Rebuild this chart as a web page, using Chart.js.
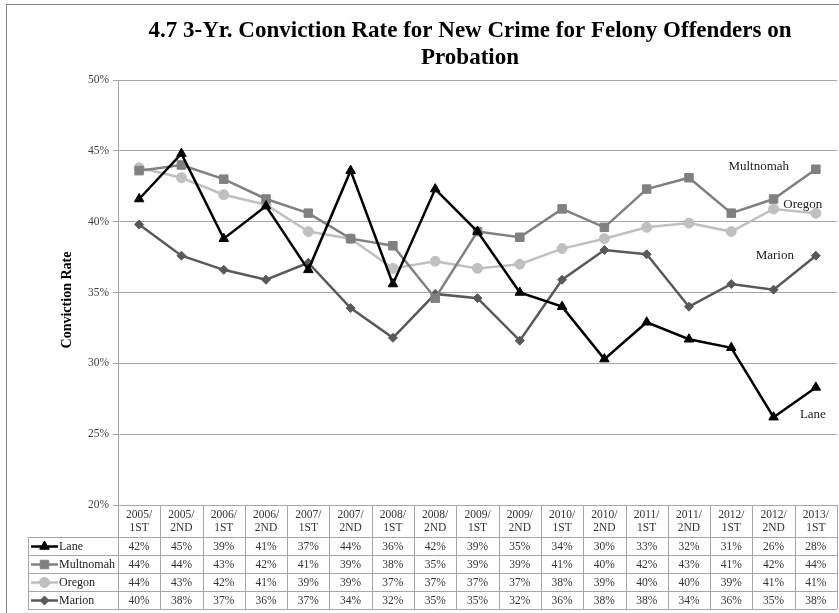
<!DOCTYPE html>
<html><head><meta charset="utf-8">
<script src="https://cdn.jsdelivr.net/npm/chart.js@4/dist/chart.umd.min.js"></script>
<style>html,body{margin:0;padding:0;background:#fff;}canvas{display:block;}</style>
</head><body>
<canvas id="c" width="839" height="613"></canvas>
<script>
const titleLines = ['4.7 3-Yr. Conviction Rate for New Crime for Felony Offenders on', 'Probation'];
const yAxisTitle = 'Conviction Rate';
const categories = [
  ['2005/','1ST'],['2005/','2ND'],['2006/','1ST'],['2006/','2ND'],['2007/','1ST'],['2007/','2ND'],
  ['2008/','1ST'],['2008/','2ND'],['2009/','1ST'],['2009/','2ND'],['2010/','1ST'],['2010/','2ND'],
  ['2011/','1ST'],['2011/','2ND'],['2012/','1ST'],['2012/','2ND'],['2013/','1ST']
];
const seriesNames = ['Lane', 'Multnomah', 'Oregon', 'Marion'];
const laneValues      = [41.6, 44.8, 38.8, 41.1, 36.6, 43.6, 35.6, 42.3, 39.3, 35.0, 34.0, 30.3, 32.9, 31.7, 31.1, 26.2, 28.3];
const multnomahValues = [43.6, 44.0, 43.0, 41.6, 40.6, 38.8, 38.3, 34.6, 39.3, 38.9, 40.9, 39.6, 42.3, 43.1, 40.6, 41.6, 43.7];
const oregonValues    = [43.8, 43.1, 41.9, 41.2, 39.3, 38.8, 36.7, 37.2, 36.7, 37.0, 38.1, 38.8, 39.6, 39.9, 39.3, 40.9, 40.6];
const marionValues    = [39.8, 37.6, 36.6, 35.9, 37.1, 33.9, 31.8, 34.9, 34.6, 31.6, 35.9, 38.0, 37.7, 34.0, 35.6, 35.2, 37.6];
const yTickValues = [20, 25, 30, 35, 40, 45, 50];

const SERIF = '"Liberation Serif","Times New Roman",serif';
const colors = ['#000000', '#808080', '#c0c0c0', '#595959'];
const styles = ['triangle', 'rect', 'circle', 'rectRot'];
const radii = [5.5, 6, 5, 4.5];
const allValues = [laneValues, multnomahValues, oregonValues, marionValues];
// label anchors (category index, value) for in-plot series names
const labelAnchors = [[15.93, 26.35], [14.65, 43.92], [15.69, 41.24], [15.03, 37.6]];

const datasets = seriesNames.map((name, k) => ({
  label: name,
  data: allValues[k],
  borderColor: colors[k],
  backgroundColor: colors[k],
  pointBackgroundColor: colors[k],
  pointBorderColor: colors[k],
  pointStyle: styles[k],
  pointRadius: radii[k],
  pointBorderWidth: 1,
  borderWidth: 2.5,
  tension: 0
}));

const GRID = '#a6a6a6';

const tablePlugin = {
  id: 'tablePlugin',
  beforeDraw(chart) {
    const ctx = chart.ctx;
    ctx.save();
    ctx.fillStyle = '#fff';
    ctx.fillRect(0, 0, chart.width, chart.height);
    ctx.strokeStyle = '#868686';
    ctx.lineWidth = 1;
    ctx.strokeRect(6.5, 4.5, 1000, 1000);
    ctx.restore();
  },
  afterDraw(chart) {
    const ctx = chart.ctx;
    const ca = chart.chartArea;
    const xs = chart.scales.x, ys = chart.scales.y;
    const n = categories.length;
    const colW = (ca.right - ca.left) / n;
    ctx.save();
    // title
    ctx.fillStyle = '#000';
    ctx.font = 'bold 23px ' + SERIF;
    ctx.textAlign = 'center';
    ctx.textBaseline = 'middle';
    ctx.fillText(titleLines[0], 470, 31);
    ctx.fillText(titleLines[1], 470, 58);
    // y axis title
    ctx.save();
    ctx.translate(67, 300);
    ctx.rotate(-Math.PI / 2);
    ctx.font = 'bold 14px ' + SERIF;
    ctx.fillText(yAxisTitle, 0, 0);
    ctx.restore();
    // series labels
    ctx.font = '13px ' + SERIF;
    ctx.fillStyle = '#222';
    labelAnchors.forEach((a, k) => {
      ctx.fillText(seriesNames[k], xs.getPixelForValue(a[0]), ys.getPixelForValue(a[1]));
    });
    // table
    const top = ca.bottom;
    const headerBottom = top + 32;
    const rowH = 18;
    const bottom = headerBottom + rowH * seriesNames.length;
    const legendLeft = 28;
    ctx.strokeStyle = GRID;
    ctx.lineWidth = 1;
    ctx.beginPath();
    for (let k = 0; k <= n; k++) {
      const x = Math.round(ca.left + k * colW) + 0.5;
      ctx.moveTo(x, top); ctx.lineTo(x, bottom);
    }
    for (let r = 0; r <= seriesNames.length; r++) {
      const y = Math.round(headerBottom + r * rowH) + 0.5;
      ctx.moveTo(legendLeft, y); ctx.lineTo(ca.right, y);
    }
    ctx.moveTo(legendLeft + 0.5, headerBottom); ctx.lineTo(legendLeft + 0.5, bottom);
    ctx.stroke();
    // header labels
    ctx.fillStyle = '#333';
    ctx.font = '11.5px ' + SERIF;
    ctx.textAlign = 'center';
    categories.forEach((c, i) => {
      const cx = xs.getPixelForValue(i);
      ctx.fillText(c[0], cx, top + 10);
      ctx.fillText(c[1], cx, top + 23);
    });
    // rows
    seriesNames.forEach((name, k) => {
      const cy = headerBottom + rowH * k + rowH / 2 + 0.5;
      allValues[k].forEach((v, i) => {
        ctx.fillStyle = '#333';
        ctx.font = '11.5px ' + SERIF;
        ctx.textAlign = 'center';
        ctx.fillText(Math.round(v) + '%', xs.getPixelForValue(i), cy);
      });
      // legend sample
      ctx.strokeStyle = colors[k];
      ctx.lineWidth = 2.5;
      ctx.beginPath();
      ctx.moveTo(31, cy); ctx.lineTo(58, cy);
      ctx.stroke();
      ctx.fillStyle = colors[k];
      ctx.lineWidth = 1;
      Chart.helpers.drawPoint(ctx, {pointStyle: styles[k], radius: radii[k], borderWidth: 1, rotation: 0}, 44.5, cy);
      ctx.fillStyle = '#222';
      ctx.font = '12px ' + SERIF;
      ctx.textAlign = 'left';
      ctx.fillText(name, 59, cy);
    });
    ctx.restore();
  }
};

new Chart(document.getElementById('c'), {
  type: 'line',
  data: { labels: categories.map(c => c.join('')), datasets },
  options: {
    responsive: false,
    animation: false,
    layout: { autoPadding: false, padding: { left: 7, right: 2, top: 80, bottom: 108 } },
    plugins: { legend: { display: false }, title: { display: false }, tooltip: { enabled: false } },
    scales: {
      x: { type: 'category', offset: true, display: false },
      y: {
        min: 20, max: 50,
        afterFit(scale) { scale.width = 111; },
        afterBuildTicks(scale) { scale.ticks = yTickValues.map(v => ({ value: v })); },
        ticks: { callback: v => v + '%', font: { family: SERIF, size: 11.5 }, color: '#404040', padding: 4 },
        grid: { color: GRID, tickLength: 5, drawTicks: true },
        border: { color: GRID, width: 1 }
      }
    }
  },
  plugins: [tablePlugin]
});
</script>
</body></html>
